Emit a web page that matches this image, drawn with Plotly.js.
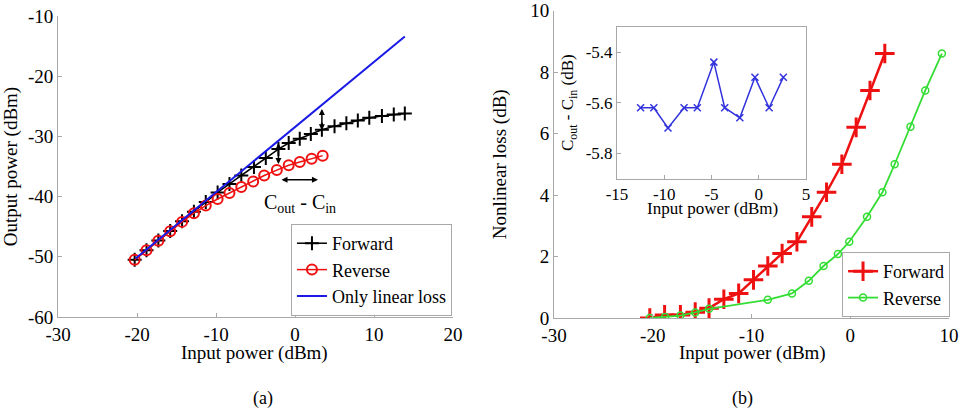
<!DOCTYPE html>
<html>
<head>
<meta charset="utf-8">
<script src="https://cdn.plot.ly/plotly-3.0.1.min.js"></script>
<style>html,body{margin:0;padding:0;background:#fff;}#chart{width:961px;height:414px;}</style>
</head>
<body>
<div id="chart"></div>
<script>
// (a) Output power vs input power
const fwdInA  = [-20.3, -18.8, -17.3, -15.8, -14.3, -12.8, -11.3, -9.8, -8.3, -6.8, -5.2, -3.7, -2.1, -0.8, 0.6, 2.0, 3.4, 5.0, 6.5, 7.95, 9.4, 11.0, 12.5, 13.9];
const fwdOutA = [-50.5, -48.9, -47.3, -45.7, -44.1, -42.5, -40.9, -39.3, -37.9, -36.5, -35.1, -33.6, -32.1, -31.1, -30.4, -29.6, -28.9, -28.3, -27.8, -27.35, -26.9, -26.6, -26.35, -26.2];
const revInA  = [-20.3, -18.8, -17.3, -15.8, -14.3, -12.8, -11.3, -9.8, -8.3, -6.8, -5.3, -3.9, -2.3, -0.8, 0.6, 2.1, 3.5];
const revOutA = [-50.5, -48.9, -47.35, -45.75, -44.2, -42.75, -41.5, -40.4, -39.4, -38.4, -37.5, -36.5, -35.6, -34.8, -34.25, -33.7, -33.2];
const linInA  = [-20.2, 13.9];
const linOutA = [-50.3, -13.4];
const xTicksA = [-30, -20, -10, 0, 10, 20];
const xTextA  = ['-30', '-20', '-10', '0', '10', '20'];
const yTicksA = [-60, -50, -40, -30, -20, -10];
const yTextA  = ['-60', '-50', '-40', '-30', '-20', '-10'];

// (b) Nonlinear loss vs input power
const fwdInB   = [-20.3, -18.8, -17.2, -15.7, -14.3, -12.8, -11.3, -9.8, -8.35, -6.9, -5.4, -3.9, -2.4, -0.85, 0.6, 2.0, 3.5];
const fwdLossB = [0, 0.1, 0.1, 0.19, 0.32, 0.61, 0.8, 1.24, 1.69, 2.1, 2.48, 3.29, 4.09, 5.0, 6.2, 7.4, 8.6];
const revInB   = [-20.3, -18.75, -17.2, -15.7, -14.3, -8.35, -5.9, -4.2, -2.7, -1.25, -0.1, 1.7, 3.26, 4.5, 6.1, 7.6, 9.28];
const revLossB = [0, 0.03, 0.08, 0.18, 0.3, 0.59, 0.8, 1.21, 1.69, 2.08, 2.48, 3.29, 4.09, 5.0, 6.22, 7.4, 8.6];
const xTicksB = [-30, -20, -10, 0, 10];
const xTextB  = ['-30', '-20', '-10', '0', '10'];
const yTicksB = [0, 2, 4, 6, 8, 10];
const yTextB  = ['0', '2', '4', '6', '8', '10'];

// (b) inset: Cout - Cin
const insetIn    = [-12.5, -11.1, -9.6, -7.9, -6.5, -4.75, -3.6, -2.0, -0.4, 1.1, 2.6];
const insetDelta = [-5.62, -5.62, -5.70, -5.62, -5.62, -5.44, -5.62, -5.66, -5.50, -5.62, -5.50];
const xTicksI = [-15, -10, -5, 0, 5];
const xTextI  = ['-15', '-10', '-5', '0', '5'];
const yTicksI = [-5.8, -5.6, -5.4];
const yTextI  = ['-5.8', '-5.6', '-5.4'];

const FONT = 'Liberation Serif';
const AX = '#a8a8a8';

const traces = [
  {x: fwdInA, y: fwdOutA, name: 'Forward', xaxis: 'x', yaxis: 'y', mode: 'lines+markers',
   line: {color: '#000', width: 1.5}, marker: {symbol: 'cross-thin-open', size: 10, color: '#000', line: {width: 2, color: '#000'}}, legend: 'legend'},
  {x: revInA, y: revOutA, name: 'Reverse', xaxis: 'x', yaxis: 'y', mode: 'lines+markers',
   line: {color: '#ee1111', width: 1.5}, marker: {symbol: 'circle-open', size: 10, color: '#ee1111', line: {width: 2, color: '#ee1111'}}, legend: 'legend'},
  {x: linInA, y: linOutA, name: 'Only linear loss', xaxis: 'x', yaxis: 'y', mode: 'lines',
   line: {color: '#1a1ae6', width: 2}, legend: 'legend'},
  {x: fwdInB, y: fwdLossB, name: 'Forward', xaxis: 'x2', yaxis: 'y2', mode: 'lines+markers',
   line: {color: '#ee1111', width: 2.5}, marker: {symbol: 'cross-thin-open', size: 14, color: '#ee1111', line: {width: 3, color: '#ee1111'}}, legend: 'legend2'},
  {x: revInB, y: revLossB, name: 'Reverse', xaxis: 'x2', yaxis: 'y2', mode: 'lines+markers',
   line: {color: '#33dd33', width: 1.8}, marker: {symbol: 'circle-open', size: 7, color: '#33dd33', line: {width: 1.5, color: '#33dd33'}}, legend: 'legend2'},
  {x: insetIn, y: insetDelta, name: 'Cout - Cin', xaxis: 'x3', yaxis: 'y3', mode: 'lines+markers', showlegend: false,
   line: {color: '#3333dd', width: 1.5}, marker: {symbol: 'x-thin-open', size: 7, color: '#3333dd', line: {width: 1.5, color: '#3333dd'}}}
];

function axis(extra) {
  return Object.assign({
    showline: true, linecolor: AX, linewidth: 1, ticks: 'inside', ticklen: 4, tickcolor: AX,
    showgrid: false, zeroline: false, automargin: false, tickmode: 'array',
    tickfont: {family: FONT, size: 19, color: '#000'}
  }, extra);
}

function label(text, x, y, size) {
  return {x: x / 961, y: 1 - y / 414, xref: 'paper', yref: 'paper', xanchor: 'center', yanchor: 'middle',
    showarrow: false, text: text, font: {family: FONT, size: size, color: '#000'}};
}

const layout = {
  width: 961, height: 414,
  margin: {l: 0, r: 0, t: 0, b: 0},
  paper_bgcolor: '#fff', plot_bgcolor: 'rgba(0,0,0,0)',
  font: {family: FONT, size: 19, color: '#000'},
  xaxis: axis({domain: [0.0604, 0.4714], range: [-30, 20], tickvals: xTicksA, ticktext: xTextA, anchor: 'y'}),
  yaxis: axis({domain: [0.2343, 0.9614], range: [-60, -10], tickvals: yTicksA, ticktext: yTextA, anchor: 'x',
    title: {text: 'Output power (dBm)', font: {family: FONT, size: 19}}}),
  xaxis2: axis({domain: [0.5765, 0.9875], range: [-30, 10], tickvals: xTicksB, ticktext: xTextB, anchor: 'y2'}),
  yaxis2: axis({domain: [0.2319, 0.9746], range: [0, 10], tickvals: yTicksB, ticktext: yTextB, anchor: 'x2',
    title: {text: 'Nonlinear loss (dB)', font: {family: FONT, size: 19}}}),
  xaxis3: axis({domain: [0.642, 0.8387], range: [-15, 5], tickvals: xTicksI, ticktext: xTextI, anchor: 'y3', mirror: true,
    tickfont: {family: FONT, size: 17, color: '#000'}}),
  yaxis3: axis({domain: [0.5686, 0.9355], range: [-5.9, -5.3], tickvals: yTicksI, ticktext: yTextI, anchor: 'x3', mirror: true,
    tickfont: {family: FONT, size: 17, color: '#000'},
    title: {text: 'C<sub>out</sub> - C<sub>in</sub> (dB)', font: {family: FONT, size: 17}}}),
  legend: {x: 0.4703, y: 0.2367, xanchor: 'right', yanchor: 'bottom', bgcolor: '#fff',
    bordercolor: AX, borderwidth: 1, font: {family: FONT, size: 18}, itemwidth: 30, tracegroupgap: 0},
  legend2: {x: 0.9886, y: 0.2343, xanchor: 'right', yanchor: 'bottom', bgcolor: '#fff',
    bordercolor: AX, borderwidth: 1, font: {family: FONT, size: 18}, itemwidth: 30, tracegroupgap: 0},
  showlegend: true,
  annotations: [
    {x: -2.1, y: -34.6, ax: -2.1, ay: -30.9, xref: 'x', yref: 'y', axref: 'x', ayref: 'y', text: '',
     showarrow: true, arrowhead: 2, arrowside: 'end+start', arrowsize: 0.8, arrowwidth: 1.5, arrowcolor: '#000'},
    {x: 3.4, y: -29.0, ax: 3.4, ay: -25.2, xref: 'x', yref: 'y', axref: 'x', ayref: 'y', text: '',
     showarrow: true, arrowhead: 2, arrowside: 'end+start', arrowsize: 0.8, arrowwidth: 1.5, arrowcolor: '#000'},
    {x: 2.9, y: -37.2, ax: -1.9, ay: -37.2, xref: 'x', yref: 'y', axref: 'x', ayref: 'y', text: '',
     showarrow: true, arrowhead: 2, arrowside: 'end+start', arrowsize: 0.8, arrowwidth: 1.5, arrowcolor: '#000'},
    {x: 0.6, y: -41.2, xref: 'x', yref: 'y', xanchor: 'center', yanchor: 'middle', showarrow: false,
     text: 'C<sub>out</sub> - C<sub>in</sub>', font: {family: FONT, size: 20, color: '#000'}},
    label('Input power (dBm)', 255, 353, 19),
    label('Input power (dBm)', 752, 353, 19),
    label('Input power (dBm)', 712, 208, 17),
    label('(a)', 263, 398, 18),
    label('(b)', 742, 398, 18)
  ]
};

Plotly.newPlot('chart', traces, layout, {displayModeBar: false, staticPlot: true});
</script>
</body>
</html>
